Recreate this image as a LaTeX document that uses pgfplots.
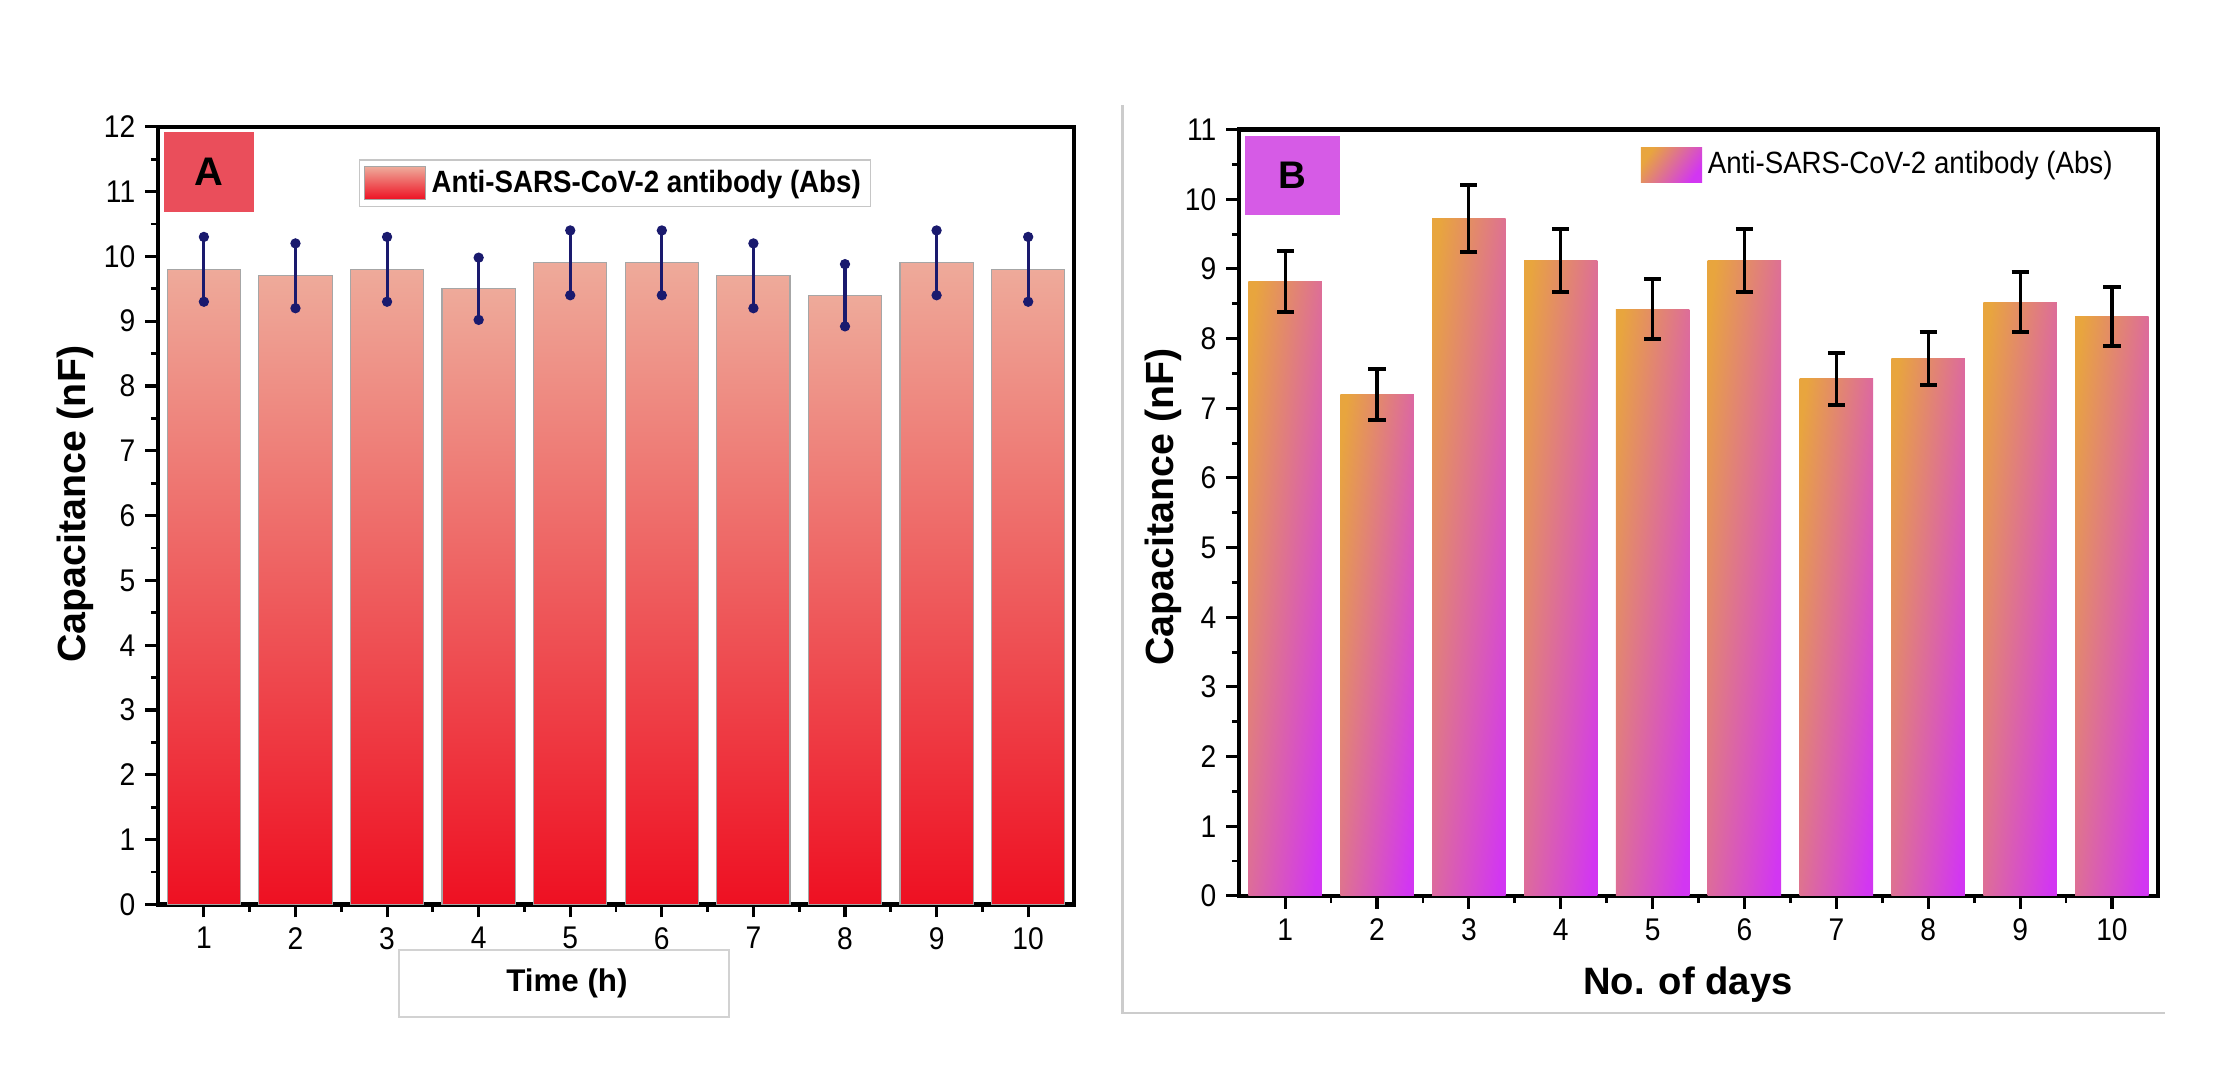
\documentclass[border=0pt]{standalone}
\usepackage{pgfplots}
\pgfplotsset{compat=1.18}
\usepackage{fontspec}
\setmainfont{Liberation Sans}
\newfontfamily\narrowfont[FakeStretch=0.9]{Liberation Sans}
\definecolor{salmon}{HTML}{EEAA9A}
\definecolor{midred}{HTML}{EE8880}
\definecolor{deepred}{HTML}{EE1022}
\definecolor{navyA}{HTML}{1A1A6E}
\definecolor{boxA}{HTML}{EA4E5B}
\definecolor{boxB}{HTML}{D65BE6}
\definecolor{bor}{HTML}{E8A53E}
\definecolor{bmag}{HTML}{D236F2}
\pgfplotsset{
  myaxis/.style={
    scale only axis,
    xmin=0.5, xmax=10.5, ymin=0,
    xtick={1,...,10},
    minor x tick num=1, minor y tick num=1,
    tick align=outside, tick pos=left,
    axis line style={line width=1.5pt},
    major tick style={line width=1.1pt,black},
    minor tick style={line width=1pt,black},
    major tick length=4.5pt, minor tick length=2.5pt,
    tick label style={font=\narrowfont\fontsize{11}{13}\selectfont},
    /pgf/number format/assume math mode=true,
    ybar, bar width=0.8,
    legend cell align=left,
  },
  barA/.style={bar shift=0pt, top color=salmon, middle color=midred, bottom color=deepred,
    draw=gray!70, line width=0.4pt,
    error bars/.cd, y dir=both, y explicit,
    error bar style={line width=1.1pt, navyA},
    error mark=*, error mark options={mark size=1.6pt, draw=navyA, fill=navyA}},
  barB/.style={bar shift=0pt, left color=bor, right color=bmag, shading angle=83, draw=none,
    error bars/.cd, y dir=both, y explicit,
    error bar style={line width=1.1pt, draw=black},
    error mark=|, error mark options={line width=1.4pt, mark size=3pt, draw=black}},
}
\begin{document}
\begin{tikzpicture}[x=0.5pt,y=0.5pt]
\useasboundingbox (0,0) rectangle (1560,753);
% Panel A
\begin{axis}[myaxis, at={(55.5pt,59pt)}, anchor=south west, width=321.5pt, height=273pt,
  ymax=12, ytick={0,...,12},
  legend style={at={(0.219,0.958)}, anchor=north west, draw=gray!45, fill=white,
    font=\narrowfont\fontsize{10.8}{12}\selectfont\bfseries, inner sep=1.5pt},
  legend image code/.code={\path[top color=salmon, middle color=midred, bottom color=deepred] (0pt,-5.75pt) rectangle (21.5pt,5.75pt);}]
\addplot[barA] coordinates {(1,9.8) +- (0,0.5)};
\addlegendentry{Anti-SARS-CoV-2 antibody (Abs)}
\addplot[barA] coordinates {(2,9.7) +- (0,0.5)};
\addplot[barA] coordinates {(3,9.8) +- (0,0.5)};
\addplot[barA] coordinates {(4,9.5) +- (0,0.48)};
\addplot[barA] coordinates {(5,9.9) +- (0,0.5)};
\addplot[barA] coordinates {(6,9.9) +- (0,0.5)};
\addplot[barA] coordinates {(7,9.7) +- (0,0.5)};
\addplot[barA] coordinates {(8,9.4) +- (0,0.48)};
\addplot[barA] coordinates {(9,9.9) +- (0,0.5)};
\addplot[barA] coordinates {(10,9.8) +- (0,0.5)};
\end{axis}
% Panel B
\begin{axis}[myaxis, at={(435pt,62pt)}, anchor=south west, width=322.5pt, height=269pt,
  ymax=11, ytick={0,...,11},
  legend style={at={(0.432,0.985)}, anchor=north west, draw=none, fill=none,
    font=\narrowfont\fontsize{10.8}{12}\selectfont, inner sep=1.5pt},
  legend image code/.code={\path[left color=bor, right color=bmag, shading angle=55] (0pt,-6pt) rectangle (21.5pt,6pt);}]
\addplot[barB] coordinates {(1,8.82) +- (0,0.44)};
\addlegendentry{Anti-SARS-CoV-2 antibody (Abs)}
\addplot[barB] coordinates {(2,7.2) +- (0,0.37)};
\addplot[barB] coordinates {(3,9.72) +- (0,0.48)};
\addplot[barB] coordinates {(4,9.12) +- (0,0.45)};
\addplot[barB] coordinates {(5,8.42) +- (0,0.43)};
\addplot[barB] coordinates {(6,9.12) +- (0,0.45)};
\addplot[barB] coordinates {(7,7.42) +- (0,0.38)};
\addplot[barB] coordinates {(8,7.72) +- (0,0.38)};
\addplot[barB] coordinates {(9,8.52) +- (0,0.43)};
\addplot[barB] coordinates {(10,8.32) +- (0,0.42)};
\end{axis}
% labels and decorations
\node[fill=boxA, minimum width=31.5pt, minimum height=28.25pt, inner sep=0pt, font=\fontsize{14}{16}\selectfont\bfseries] at (146.5,632.25) {A};
\node[fill=boxB, minimum width=33.5pt, minimum height=27.75pt, inner sep=0pt, font=\fontsize{13.5}{16}\selectfont\bfseries] at (907.5,629.75) {B};
\node[rotate=90, font=\fontsize{13.8}{15}\selectfont\bfseries] at (53,399) {Capacitance (nF)};
\node[rotate=90, font=\fontsize{13.8}{15}\selectfont\bfseries] at (817,397) {Capacitance (nF)};
\node[draw=gray!35, line width=0.6pt, minimum width=116pt, minimum height=23.5pt, inner sep=0pt] at (396,62.5) {};
\node[font=\fontsize{11}{13}\selectfont\bfseries] at (398,62.5) {Time (h)};
\node[font=\fontsize{13.4}{15}\selectfont\bfseries] at (1185,62) {No. of days};
\draw[gray!40, line width=0.8pt] (788,679) -- (788,42) -- (1520,42);
\end{tikzpicture}
\end{document}
